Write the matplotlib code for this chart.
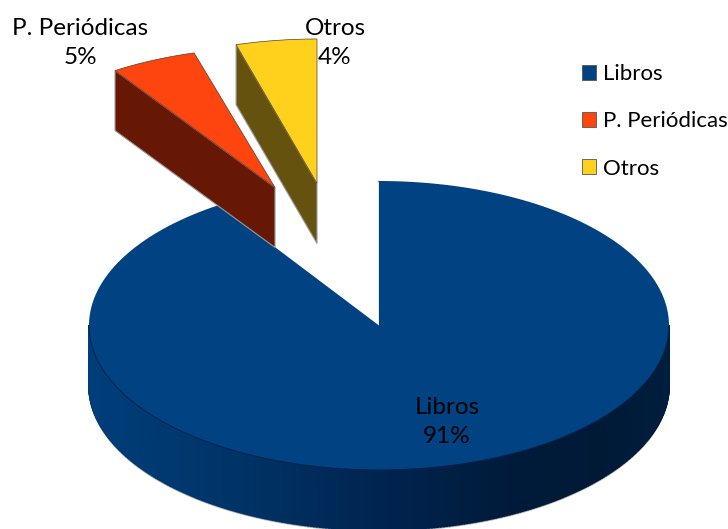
import numpy as np
import matplotlib
matplotlib.use('Agg')
import matplotlib.pyplot as plt
from matplotlib.patches import Patch

categories = ['Libros', 'P. Periódicas', 'Otros']
# shares as measured from the slice angles
shares = [90.7, 4.8, 4.5]
pct_labels = ['91%', '5%', '4%']
colors = ['#004282', '#FF450F', '#FFD11C']
wall_colors = ['#002a58', '#661805', '#66520F']

plt.rcParams['font.family'] = ['Lato', 'DejaVu Sans']

# pie geometry, in pixels
cx, cy = 379, 325.5
rx, ry = 290, 144.5
depth = 60
# pull-out of the two small slices
offsets = [(0, 0), (-104, -138), (-62, -142)]
squash = [1, 0.97, 1]


def rim(a0, a1, n=200):
    a = np.radians(np.linspace(a0, a1, n))
    return rx * np.sin(a), -ry * np.cos(a)


fig = plt.figure(figsize=(7.28, 5.29), dpi=100)
ax = fig.add_axes([0, 0, 1, 1])
ax.set_xlim(0, 728)
ax.set_ylim(529, 0)
ax.axis('off')

angles = np.concatenate([[0], np.cumsum(shares)]) * 3.6

# outer wall of the big slice, shaded from left to right
xa, ya = rim(90, 270, 300)
wx = [-290, -150, 0, 130, 220, 290]
wg = [62, 52, 36, 27, 26, 30]
wb = [122, 104, 80, 58, 54, 62]
for i in range(len(xa) - 1):
    xm = (xa[i] + xa[i + 1]) / 2
    c = (0, np.interp(xm, wx, wg) / 255, np.interp(xm, wx, wb) / 255)
    ax.fill([cx + xa[i], cx + xa[i + 1], cx + xa[i + 1], cx + xa[i]],
            [cy + ya[i], cy + ya[i + 1], cy + ya[i + 1] + depth, cy + ya[i] + depth],
            color=c, lw=1.3, zorder=1)
ax.plot(cx + xa, cy + ya + depth + 1.2, color='#8a8a8a', lw=1.0, alpha=0.7, zorder=0.9)

# top of the big slice
x0, y0 = rim(angles[0], angles[1])
ax.fill(np.r_[cx, cx + x0], np.r_[cy, cy + y0], color=colors[0], lw=0, zorder=2)
ax.plot(cx + xa, cy + ya, color='#00214a', lw=0.7, zorder=3)
ax.plot([cx, cx, cx - 1], [cy, cy - ry, cy - ry], color='#8c8c8c', lw=1.0, zorder=1.5)

# the two pulled-out slices: visible wall is the left cut face
for i in [1, 2]:
    dx, dy = offsets[i]
    xs, ys = rim(angles[i], angles[i + 1], 40)
    ys = ys * squash[i]
    ox, oy = cx + dx, cy + dy
    z = 3 + i
    ax.fill([ox + xs[0], ox, ox, ox + xs[0]],
            [oy + ys[0], oy, oy + depth, oy + ys[0] + depth],
            color=wall_colors[i], ec='#9a9a9a', lw=0.8, zorder=z)
    ax.fill(np.r_[ox, ox + xs], np.r_[oy, oy + ys], color=colors[i],
            ec='#55402a', lw=0.5, zorder=z + 0.5)

# data labels
label_size = 17.5
ax.text(447, 422, 'Libros\n' + pct_labels[0], ha='center', va='center', fontsize=label_size,
        linespacing=1.42, color='black', zorder=10)
ax.text(80, 43, 'P. Periódicas\n' + pct_labels[1], ha='center', va='center', fontsize=label_size,
        linespacing=1.42, color='black', zorder=10)
ax.text(335, 43, 'Otros\n' + pct_labels[2], ha='center', va='center', fontsize=label_size,
        linespacing=1.42, color='black', zorder=10)

handles = [Patch(fc=c, ec='#555555', lw=0.6) for c in colors]
ax.legend(handles, categories, loc='upper left', bbox_to_anchor=(582, 64),
          bbox_transform=ax.transData, frameon=False, fontsize=16,
          handlelength=0.65, handleheight=0.65, handletextpad=0.28,
          labelspacing=1.23, borderpad=0, borderaxespad=0)

plt.savefig('out.png', dpi=100)
